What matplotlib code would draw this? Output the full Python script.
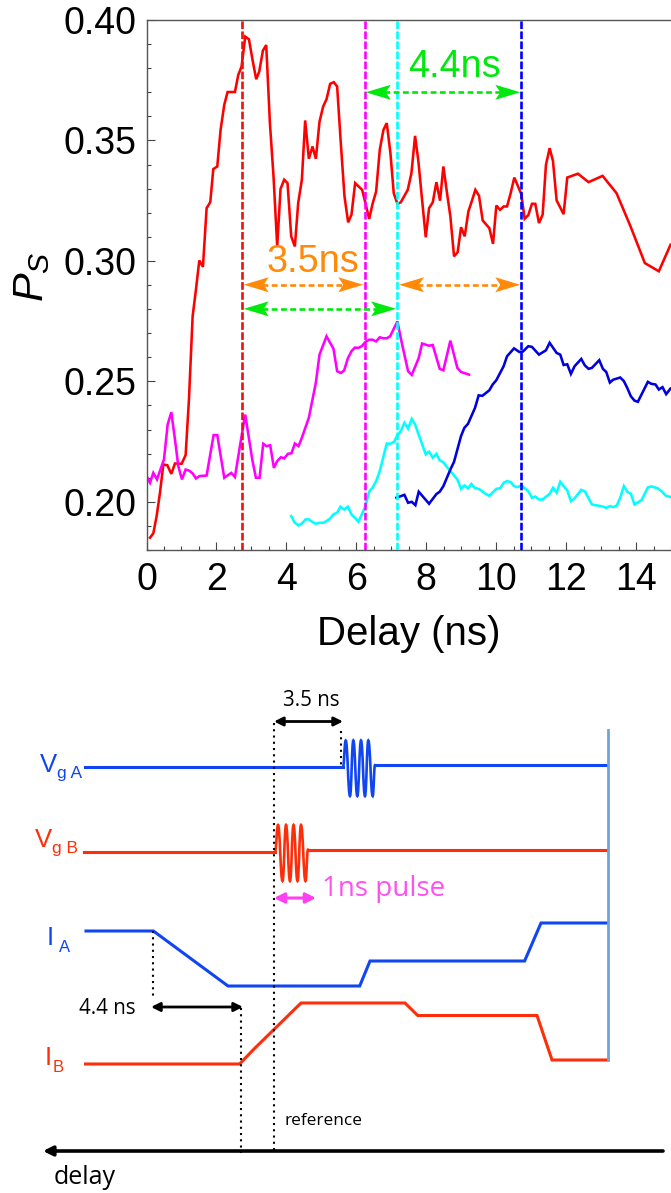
import matplotlib
matplotlib.use("Agg")
import matplotlib.pyplot as plt
from matplotlib.patches import Polygon, PathPatch
from matplotlib.path import Path
from matplotlib.ticker import MultipleLocator, FormatStrFormatter

plt.rcParams['font.family'] = ['Liberation Sans', 'DejaVu Sans']
plt.rcParams['mathtext.fontset'] = 'custom'
plt.rcParams['mathtext.rm'] = 'Liberation Sans'
plt.rcParams['mathtext.it'] = 'Liberation Sans:italic'

# ---- measured traces (delay in ns, P_S) ----
red_x = [0.10,0.195,0.29,0.386,0.481,0.595,0.71,0.814,1.005,1.119,1.214,1.319,1.414,1.51,1.614,1.719,1.824,1.91,2.024,2.119,2.224,2.319,2.529,2.624,2.719,2.824,2.929,3.033,3.138,3.224,3.329,3.424,3.529,3.633,3.738,3.833,3.938,4.033,4.138,4.243,4.338,4.443,4.538,4.643,4.748,4.843,4.948,5.052,5.148,5.252,5.357,5.452,5.557,5.662,5.767,5.862,5.967,6.167,6.262,6.367,6.471,6.567,6.671,6.776,6.871,6.976,7.071,7.176,7.271,7.471,7.576,7.681,7.776,7.881,7.986,8.081,8.186,8.291,8.395,8.49,8.595,8.69,8.795,8.9,8.995,9.1,9.205,9.31,9.405,9.51,9.614,9.805,9.91,10.005,10.11,10.214,10.31,10.414,10.519,10.719,10.814,10.919,11.024,11.119,11.224,11.329,11.424,11.529,11.624,11.729,11.929,12.033,12.338,12.643,13.043,13.443,13.843,14.252,14.652,14.986]
red_y = [.1851,.1869,.1941,.2038,.2155,.2152,.2116,.2159,.2158,.2194,.2425,.2770,.2881,.3002,.2975,.3219,.3244,.3381,.3392,.3544,.3648,.3701,.3701,.3772,.3807,.3931,.3920,.3834,.3754,.3786,.3873,.3896,.3572,.3350,.3060,.3299,.3337,.3323,.3102,.3060,.3240,.3337,.3583,.3424,.3475,.3424,.3578,.3641,.3671,.3735,.3742,.3724,.3489,.3268,.3160,.3192,.3323,.3295,.3240,.3174,.3240,.3288,.3461,.3544,.3572,.3447,.3281,.3237,.3243,.3295,.3364,.3519,.3413,.3254,.3098,.3219,.3243,.3327,.3250,.3392,.3281,.3185,.3019,.3037,.3140,.3102,.3205,.3251,.3295,.3270,.3168,.3136,.3071,.3230,.3212,.3226,.3226,.3281,.3346,.3277,.3175,.3190,.3237,.3237,.3157,.3192,.3399,.3468,.3415,.3251,.3194,.3346,.3362,.3327,.3353,.3281,.3143,.2991,.2957,.3067]

magenta_x = [0.0,0.10,0.195,0.3,0.5,0.605,0.71,0.814,0.91,1.014,1.119,1.214,1.319,1.414,1.519,1.719,1.919,2.024,2.224,2.424,2.529,2.719,2.824,3.024,3.129,3.233,3.338,3.433,3.538,3.643,3.738,3.843,3.938,4.043,4.148,4.243,4.348,4.443,4.643,4.843,4.948,5.148,5.348,5.452,5.557,5.652,5.757,5.862,5.957,6.062,6.157,6.262,6.367,6.462,6.567,6.671,6.767,6.871,6.967,7.176,7.281,7.481,7.586,7.786,7.881,8.081,8.186,8.386,8.49,8.69,8.89,8.995,9.224]
magenta_y = [.2107,.2079,.2120,.2093,.2176,.2321,.2372,.2259,.2148,.2093,.2134,.2130,.2118,.2097,.2107,.2109,.2277,.2277,.2100,.2120,.2103,.2273,.2362,.2176,.2100,.2100,.2241,.2231,.2235,.2141,.2169,.2185,.2180,.2199,.2202,.2242,.2231,.2266,.2349,.2494,.2611,.2687,.2635,.2542,.2535,.2545,.2595,.2625,.2640,.2639,.2646,.2664,.2673,.2673,.2666,.2683,.2679,.2679,.2687,.2749,.2673,.2542,.2527,.2597,.2657,.2648,.2651,.2552,.2546,.2669,.2556,.2539,.2528]

cyan_x = [4.138,4.243,4.348,4.443,4.548,4.643,4.748,4.843,4.948,5.052,5.148,5.252,5.348,5.452,5.548,5.652,5.757,5.862,5.957,6.062,6.262,6.367,6.462,6.567,6.671,6.767,6.871,6.976,7.081,7.176,7.271,7.376,7.481,7.586,7.681,7.986,8.081,8.186,8.291,8.386,8.481,8.69,8.89,8.995,9.09,9.195,9.29,9.395,9.5,9.7,9.805,10.005,10.11,10.214,10.31,10.414,10.51,10.614,10.719,10.919,11.024,11.119,11.224,11.319,11.529,11.624,11.729,11.833,12.033,12.138,12.243,12.433,12.538,12.738,12.843,13.043,13.148,13.252,13.348,13.452,13.548,13.652,13.748,13.852,13.957,14.157,14.338,14.433,14.624,14.729,14.862,14.986]
cyan_y = [.1941,.1913,.1902,.1910,.1927,.1927,.1916,.1909,.1913,.1913,.1920,.1931,.1948,.1955,.1980,.1968,.1980,.1948,.1934,.1917,.1982,.2042,.2058,.2086,.2127,.2183,.2242,.2241,.2249,.2277,.2293,.2328,.2304,.2344,.2321,.2197,.2208,.2183,.2199,.2172,.2165,.2127,.2093,.2054,.2068,.2056,.2074,.2057,.2054,.2033,.2025,.2054,.2056,.2079,.2086,.2082,.2065,.2061,.2068,.2044,.2017,.2022,.2010,.2009,.2033,.2058,.2038,.2083,.2047,.2003,.2014,.2050,.2043,.1989,.1986,.1981,.1975,.1982,.1978,.1985,.2017,.2065,.2042,.2033,.1989,.2007,.2060,.2064,.2056,.2044,.2024,.2020]

blue_x = [7.148,7.376,7.481,7.586,7.69,7.786,8.081,8.29,8.386,8.49,8.69,8.795,8.995,9.09,9.195,9.395,9.5,9.605,9.805,9.9,10.005,10.214,10.31,10.51,10.662,10.767,10.919,11.024,11.224,11.424,11.529,11.729,11.833,11.929,12.033,12.138,12.243,12.433,12.538,12.643,12.738,12.948,13.052,13.148,13.252,13.348,13.548,13.652,13.748,13.852,13.957,14.052,14.338,14.433,14.557,14.652,14.757,14.862,14.986]
blue_y = [.2017,.2029,.1996,.2000,.1986,.2042,.1992,.2032,.2042,.2065,.2134,.2166,.2273,.2307,.2324,.2390,.2442,.2440,.2463,.2487,.2505,.2563,.2604,.2637,.2622,.2624,.2646,.2643,.2611,.2629,.2660,.2618,.2611,.2568,.2571,.2531,.2563,.2593,.2566,.2552,.2556,.2588,.2552,.2539,.2495,.2507,.2516,.2501,.2473,.2438,.2420,.2415,.2498,.2490,.2487,.2466,.2476,.2447,.2470]

marker_delays = [2.73, 6.24, 7.17, 10.72]
marker_colors = ['#F01010', '#FF00FF', '#00FFFF', '#0000FF']
trace_blue = '#0000DD'
gap_a = 3.5
gap_b = 4.4

# ---- schematic timing levels ----
ia_x = [86,153.4,228,359.7,370,524.6,541,607]
ia_y = [931,931,986,986,961,961,923,923]
ib_x = [85.5,239.6,254,301,405,417.7,537,552,607]
ib_y = [1064,1064,1049,1003,1003,1015.5,1015.5,1060,1060]
vga_turn_x = [343,345.7,350,353.3,357.3,361,365,368.3,372.7,375]
vga_turn_y = [767,740.5,796,740.5,796,740.5,796,740.5,796,765]
vgb_turn_x = [275,278,282.5,286,290,293.5,297.5,301,305.5,308]
vgb_turn_y = [852,825,881,825,881,825,881,825,881,849.5]
C_A = '#1046F2'
C_B = '#FF2E0A'

fig = plt.figure(figsize=(6.71, 11.93), dpi=100)
W, H = 671.0, 1193.0
ax = fig.add_axes([146.5/W, 1-550/H, (671-146.5)/W, 530/H])
ov = fig.add_axes([0, 0, 1, 1], zorder=5)
ov.set_xlim(0, W); ov.set_ylim(H, 0); ov.axis('off'); ov.patch.set_alpha(0)

# ---- top chart ----
for xs, ys, c in [(red_x, red_y, '#FF0000'), (magenta_x, magenta_y, '#FF00FF'),
                  (cyan_x, cyan_y, '#00FFFF'), (blue_x, blue_y, trace_blue)]:
    ax.plot(xs, ys, color=c, lw=1.85, solid_joinstyle='miter', zorder=2)
for d, c in zip(marker_delays, marker_colors):
    ax.axvline(d, color=c, lw=1.9, ls=(0, (2.9, 0.9)), zorder=3)

ax.set_xlim(0, 15); ax.set_ylim(0.18, 0.40)
ax.xaxis.set_major_locator(MultipleLocator(2)); ax.xaxis.set_minor_locator(MultipleLocator(0.5))
ax.yaxis.set_major_locator(MultipleLocator(0.05)); ax.yaxis.set_minor_locator(MultipleLocator(0.01))
ax.yaxis.set_major_formatter(FormatStrFormatter('%.2f'))
ax.tick_params(which='major', direction='in', length=5.5, width=0.8, color='#444444',
               labelsize=27, labelcolor='black')
ax.tick_params(which='minor', direction='in', length=3, width=0.8, color='#444444')
ax.tick_params(axis='x', which='major', pad=9)
ax.tick_params(axis='y', which='major', pad=7)
for s in ['left', 'top', 'bottom']:
    ax.spines[s].set_color('#555555'); ax.spines[s].set_linewidth(1.0)
ax.spines['right'].set_visible(False)
ax.set_xlabel('Delay (ns)', fontsize=29, labelpad=12)
fig.text(32/W, 1-277/H, r'$P_S$', fontsize=31, rotation=90, ha='center', va='center')

def to_ov(x, y):
    p = ax.transData.transform((x, y))
    return ov.transData.inverted().transform(p)

def head(tip_x, y, direction, color, length=25, half=7.5, notch=5):
    bx = tip_x - direction*length
    ov.add_patch(Polygon([(tip_x, y), (bx, y-half), (bx+direction*notch, y), (bx, y+half)],
                         closed=True, fc=color, ec='none', zorder=6))

def span_arrow(x0, x1, yval, color):
    (a, y) = to_ov(x0, yval); (b, _) = to_ov(x1, yval)
    ov.plot([a+18, b-18], [y, y], color=color, lw=1.9, ls=(0, (2.2, 1.3)), zorder=5)
    head(a, y, -1, color); head(b, y, 1, color)

ORANGE = '#FF8A0A'; GREEN = '#00E80C'
span_arrow(marker_delays[1]+0.03, marker_delays[3]-0.03, 0.3700, GREEN)
span_arrow(marker_delays[0]+0.05, marker_delays[2]-0.03, 0.2801, GREEN)
span_arrow(marker_delays[0]+0.05, marker_delays[0]+gap_a-0.03, 0.2901, ORANGE)
span_arrow(marker_delays[2]+0.05, marker_delays[3]-0.03, 0.2901, ORANGE)
ov.text(312.5, 262, f'{gap_a}ns', color=ORANGE, fontsize=27.2, ha='center', va='center', zorder=7)
ov.text(454, 67, f'{gap_b}ns', color=GREEN, fontsize=27.2, ha='center', va='center', zorder=7)

# ---- schematic ----
def burst(xs, ys, color):
    verts = [(xs[0], ys[0])]; codes = [Path.MOVETO]
    for i in range(1, len(xs)):
        d = (xs[i]-xs[i-1])*0.45
        verts += [(xs[i-1]+d, ys[i-1]), (xs[i]-d, ys[i]), (xs[i], ys[i])]
        codes += [Path.CURVE4]*3
    ov.add_patch(PathPatch(Path(verts, codes), fc='none', ec=color, lw=1.9, capstyle='round'))

ov.plot([85, vga_turn_x[0]], [767, vga_turn_y[0]], color=C_A, lw=2.2)
burst(vga_turn_x, vga_turn_y, C_A)
ov.plot([vga_turn_x[-1], 607], [765, 765], color=C_A, lw=2.2)
ov.plot([84, vgb_turn_x[0]], [852, vgb_turn_y[0]], color=C_B, lw=2.2)
burst(vgb_turn_x, vgb_turn_y, C_B)
ov.plot([vgb_turn_x[-1], 607], [849.5, 849.5], color=C_B, lw=2.2)
ov.plot(ia_x, ia_y, color=C_A, lw=2.2, solid_joinstyle='miter')
ov.plot(ib_x, ib_y, color=C_B, lw=2.2, solid_joinstyle='miter')
ov.plot([607.5, 607.5], [730, 1060], color='#6FA3DA', lw=2.0)

dotted = (0, (1, 2.0))
for x, y0, y1 in [(273.5, 723, 1150), (341, 731, 768), (153, 931, 998), (240.5, 1008, 1153)]:
    ov.plot([x, x], [y0, y1], color='black', lw=1.5, ls=dotted, zorder=4)

def dbl(x0, x1, y, color, lw=2.0, scale=13, style='<|-|>'):
    ov.annotate('', xy=(x1, y), xytext=(x0, y),
                arrowprops=dict(arrowstyle=style, color=color, lw=lw, mutation_scale=scale,
                                shrinkA=0, shrinkB=0))

dbl(274, 343, 721.5, 'black')
dbl(151, 243, 1007, 'black')
dbl(274, 316, 898, '#FF40F0', lw=2.2, scale=15)
dbl(663, 43, 1151, 'black', lw=2.6, scale=14, style='-|>')

ov.text(311, 701, f'{gap_a} ns', fontsize=14.8, ha='center', va='center', family='Open Sans')
ov.text(79, 1008, f'{gap_b} ns', fontsize=14.8, ha='left', va='center', family='Open Sans')
ov.text(285, 1121, 'reference', fontsize=12.4, ha='left', va='center', family='Open Sans')
ov.text(54, 1178, 'delay', fontsize=18, ha='left', va='center', family='Open Sans')
ov.text(322, 889, '1ns pulse', fontsize=20, ha='left', va='center', color='#FF50F0', family='Open Sans')

ov.text(40, 772, 'V', color=C_A, fontsize=18.5, ha='left', va='baseline')
ov.text(57, 778, 'g A', color=C_A, fontsize=12.5, ha='left', va='baseline')
ov.text(35, 847, 'V', color=C_B, fontsize=18.5, ha='left', va='baseline')
ov.text(52, 853, 'g B', color=C_B, fontsize=12.5, ha='left', va='baseline')
ov.text(47, 945, 'I', color=C_A, fontsize=18.5, ha='left', va='baseline')
ov.text(59, 952, 'A', color=C_A, fontsize=12, ha='left', va='baseline')
ov.text(45, 1065, 'I', color=C_B, fontsize=18.5, ha='left', va='baseline')
ov.text(53, 1072, 'B', color=C_B, fontsize=12, ha='left', va='baseline')

fig.savefig('out.png', dpi=100)
